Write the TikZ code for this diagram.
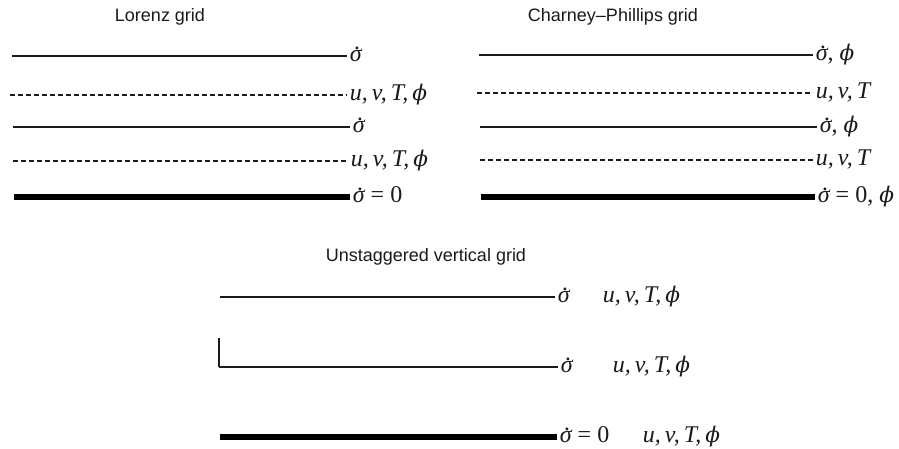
\documentclass[tikz,border=0pt]{standalone}
\usepackage{fontspec}
\setsansfont{Liberation Sans}
\newfontfamily\labfont{Liberation Serif}
\newfontfamily\phifont[Scale=0.9]{DejaVu Serif}
\usetikzlibrary{positioning}
\definecolor{cink}{HTML}{1A1A1A}
% sigma with a dot on top, straight phi
\newcommand{\sigdot}{{\itshape\ooalign{σ\cr\hidewidth\kern0.14em\raisebox{0.52em}{.}\hidewidth\cr}}}
\newcommand{\fii}{{\phifont\itshape ϕ}}
\newcommand{\uvt}{{\itshape u,\,v,\,T}}
\newcommand{\uvtp}{{\itshape u,\,v,\,T,\,\fii}}
\tikzset{
  every picture/.style={line width=1.8pt},
  title/.style={font=\sffamily\fontsize{18}{20}\selectfont, text=cink},
  lab/.style={anchor=base west, inner sep=2pt, yshift=-5.5pt, text=cink, font=\labfont\fontsize{24}{28}\selectfont},
  level/.style={draw=cink, line width=1.8pt},
  halflevel/.style={draw=cink, line width=1.4pt, dash pattern=on 5pt off 3pt},
  surface/.style={draw=black, line width=6pt},
}

\begin{document}
\begin{tikzpicture}[x=1pt, y=-1pt]
  \useasboundingbox (0,0) rectangle (899,448);
  % Lorenz grid
  \node[title] (lorenz) at (160,17) {Lorenz grid};
  \foreach \n/\y/\xa/\xb/\sty/\txt in {1/56/12/347/level/{\sigdot}, 2/95/10/347/halflevel/{\uvtp}, 3/127/13/350/level/{\sigdot}, 4/161/13/348/halflevel/{\uvtp}, 5/197/14/350/surface/{\sigdot{} = 0}} {
    \coordinate (la\n) at (\xa,\y);
    \node[lab] (lt\n) at (\xb,\y) {\txt};
    \draw[\sty] (la\n) -- (la\n -| lt\n.west);
  }
  % Charney-Phillips grid
  \node[title] (charney) at (613,17) {Charney--Phillips grid};
  \foreach \n/\y/\xa/\xb/\sty/\txt in {1/55/479/813/level/{\sigdot, \fii}, 2/93/477/813/halflevel/{\uvt}, 3/127/480/817/level/{\sigdot, \fii}, 4/160/480/813/halflevel/{\uvt}, 5/197/481/815/surface/{\sigdot{} = 0, \fii}} {
    \coordinate (ca\n) at (\xa,\y);
    \node[lab] (ct\n) at (\xb,\y) {\txt};
    \draw[\sty] (ca\n) -- (ca\n -| ct\n.west);
  }
  % unstaggered grid
  \node[title] (unstag) at (426,257) {Unstaggered vertical grid};
  \foreach \n/\y/\xa/\xb/\xc/\sty/\txt in {1/297/220/555/600/level/{\sigdot}, 2/367/219/558/610/level/{\sigdot}, 3/437/220/557/640/surface/{\sigdot{} = 0}} {
    \coordinate (ua\n) at (\xa,\y);
    \node[lab] (ut\n) at (\xb,\y) {\txt};
    \node[lab] (uv\n) at (\xc,\y) {\uvtp};
    \draw[\sty] (ua\n) -- (ua\n -| ut\n.west);
  }
  \coordinate (utop) at (219,338);
  \draw[level, line width=1.4pt] (utop) -- (ua2);
\end{tikzpicture}
\end{document}
